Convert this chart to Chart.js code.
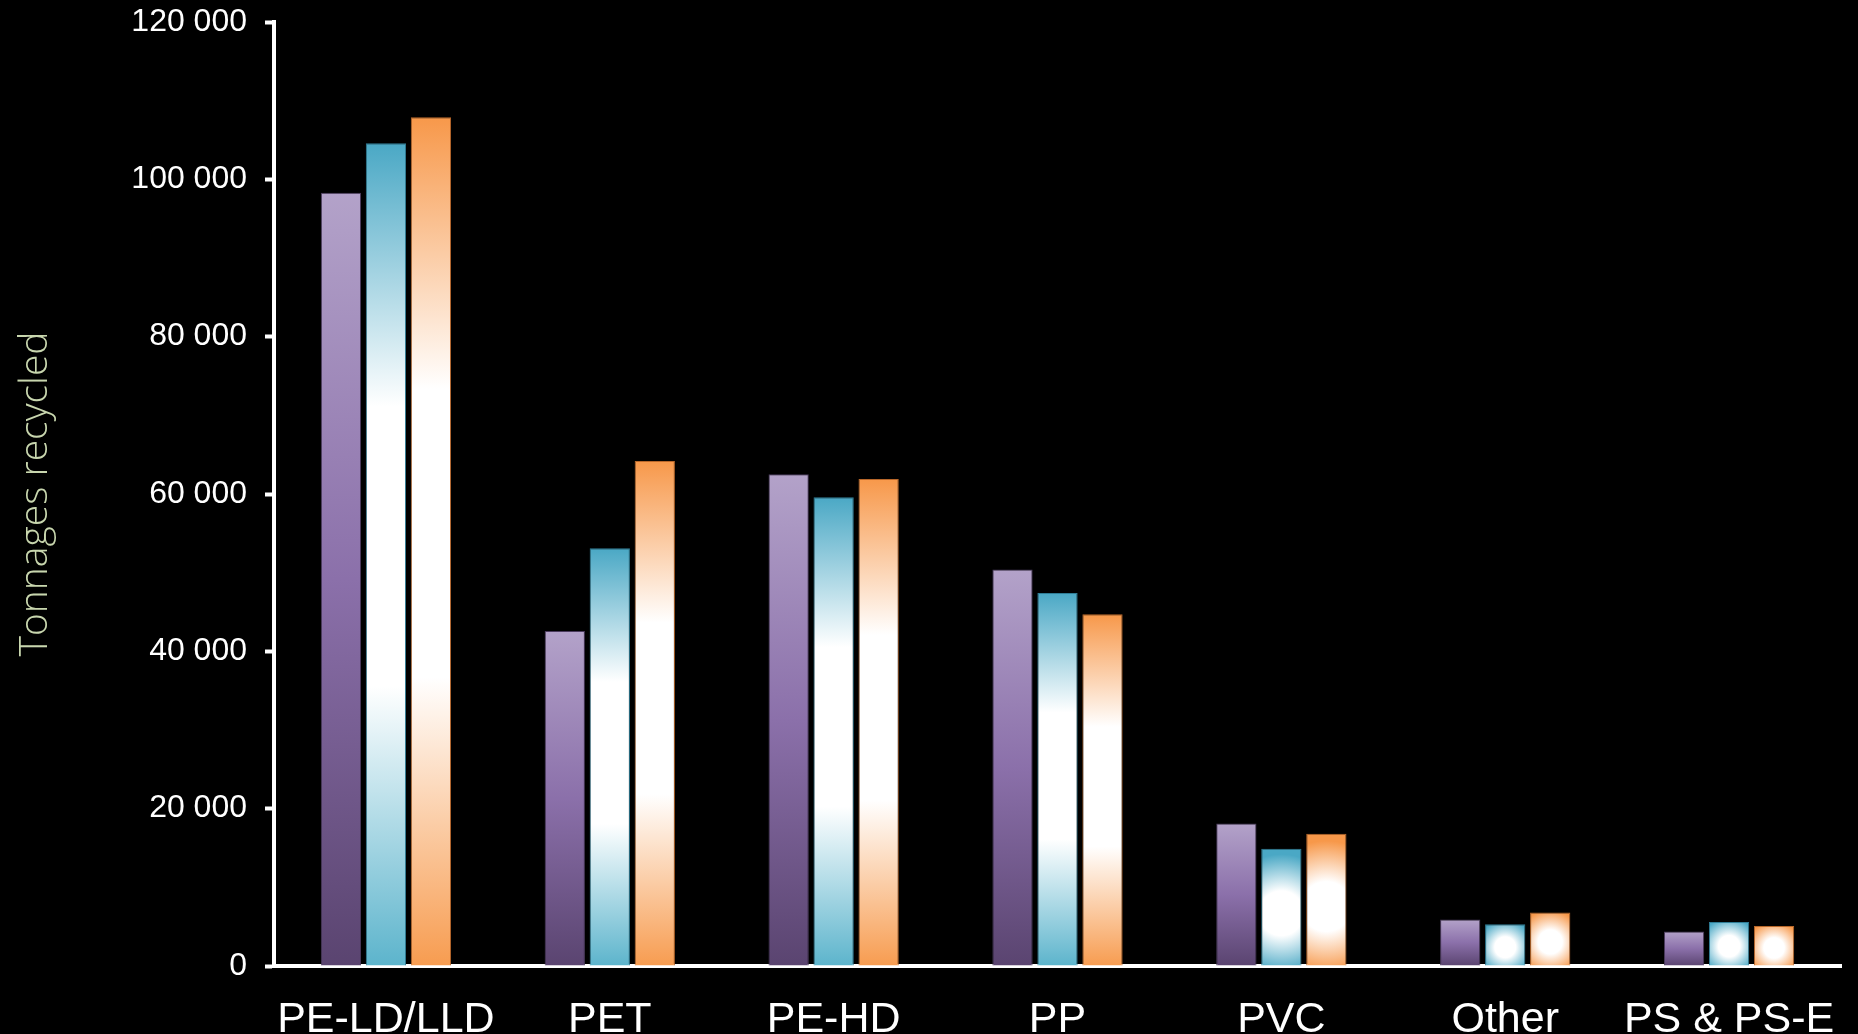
<!DOCTYPE html>
<html>
<head>
<meta charset="utf-8">
<script src="https://cdn.jsdelivr.net/npm/chart.js@4/dist/chart.umd.min.js"></script>
<style>
  html, body { margin: 0; padding: 0; background: #000; }
  #wrap { width: 1858px; height: 1034px; }
</style>
</head>
<body>
<div id="wrap"><canvas id="grafico" width="1858" height="1034"></canvas></div>
<script>
// dados
const categorias = ['PE-LD/LLD', 'PET', 'PE-HD', 'PP', 'PVC', 'Other', 'PS & PS-E'];
const serie1 = [98300, 42600, 62500, 50400, 18100, 5900, 4400];
const serie2 = [104600, 53100, 59600, 47400, 14900, 5300, 5600];
const serie3 = [107900, 64200, 61900, 44700, 16800, 6800, 5100];
const yTicks = [0, 20000, 40000, 60000, 80000, 100000, 120000];

const catPct = 0.603;
const barPct = 0.895;

// cores: [topo, fundo] e borda
const cores = [
  { top: '#b3a2c9', bottom: '#5a4470', border: '#4a3a5c' },
  { top: '#4aa8c5', bottom: '#5cb4cc', border: '#2f7d96' },
  { top: '#f7984a', bottom: '#f79c50', border: '#b8672a' },
];

function barBox(ctx) {
  const chart = ctx.chart;
  const xs = chart.scales.x, ys = chart.scales.y;
  const catW = (xs.right - xs.left) / categorias.length;
  const step = catW * catPct / 3;
  const w = step * barPct;
  const cx = xs.getPixelForValue(ctx.dataIndex) + (ctx.datasetIndex - 1) * step;
  const top = ys.getPixelForValue(ctx.raw);
  const bottom = ys.getPixelForValue(0);
  return { cx, w, top, bottom, h: bottom - top };
}

function preenchimento(ctx) {
  const c = cores[ctx.datasetIndex];
  if (!ctx.chart.chartArea || ctx.type !== 'data') return c.top;
  const g2d = ctx.chart.ctx;
  const b = barBox(ctx);
  if (ctx.datasetIndex === 0) {
    const g = g2d.createLinearGradient(0, b.top, 0, b.bottom);
    g.addColorStop(0, '#b3a2c9');
    g.addColorStop(0.5, '#8b70aa');
    g.addColorStop(1, '#5a4470');
    return g;
  }
  if (b.h > b.w * 4) {
    const g = g2d.createLinearGradient(0, b.top, 0, b.bottom);
    g.addColorStop(0, c.top);
    g.addColorStop(0.32, '#ffffff');
    g.addColorStop(0.66, '#ffffff');
    g.addColorStop(1, c.bottom);
    return g;
  }
  const cy = b.top + b.h * 0.55;
  const r = Math.sqrt(b.w * b.w + b.h * b.h) / 2 * 0.95;
  const g = g2d.createRadialGradient(b.cx, cy, 0, b.cx, cy, r);
  g.addColorStop(0, '#ffffff');
  g.addColorStop(0.38, '#ffffff');
  g.addColorStop(1, c.top);
  return g;
}

function dataset(label, valores, i) {
  return {
    label: label,
    data: valores,
    backgroundColor: preenchimento,
    borderColor: cores[i].border,
    borderWidth: 1,
    borderSkipped: 'bottom',
    categoryPercentage: catPct,
    barPercentage: barPct,
  };
}

new Chart(document.getElementById('grafico'), {
  type: 'bar',
  data: {
    labels: categorias,
    datasets: [
      dataset('1', serie1, 0),
      dataset('2', serie2, 1),
      dataset('3', serie3, 2),
    ],
  },
  options: {
    responsive: false,
    animation: false,
    layout: { padding: { top: 22, right: 17, left: 0, bottom: 0 } },
    plugins: {
      legend: { display: false },
      tooltip: { enabled: false },
    },
    scales: {
      x: {
        grid: { display: false, drawTicks: false },
        border: { display: true, color: '#ffffff', width: 4 },
        ticks: {
          color: '#ffffff',
          padding: 28,
          font: { family: 'Liberation Sans', size: 43 },
          maxRotation: 0,
          autoSkip: false,
        },
        afterFit(scale) {
          scale.height = 68;
          scale.paddingLeft = 0;
          scale.paddingRight = 0;
        },
      },
      y: {
        min: 0,
        max: 120000,
        afterBuildTicks(scale) { scale.ticks = yTicks.map(v => ({ value: v })); },
        grid: {
          drawOnChartArea: false,
          drawTicks: true,
          tickLength: 9,
          tickWidth: 4,
          color: '#ffffff',
        },
        border: { display: true, color: '#ffffff', width: 4 },
        ticks: {
          color: '#ffffff',
          padding: 18,
          font: { family: 'Liberation Sans', size: 32 },
          callback: v => v === 0 ? '0' : String(v).replace(/\B(?=(\d{3})+(?!\d))/g, ' '),
        },
        title: {
          display: true,
          text: 'Tonnages recycled',
          color: '#c8d6ae',
          font: { family: 'Open Sans', size: 39, weight: '300' },
          padding: { top: 12, bottom: 0 },
        },
        afterFit(scale) {
          scale.width = 274;
          scale.paddingTop = 0;
          scale.paddingBottom = 0;
        },
      },
    },
  },
});
</script>
</body>
</html>
